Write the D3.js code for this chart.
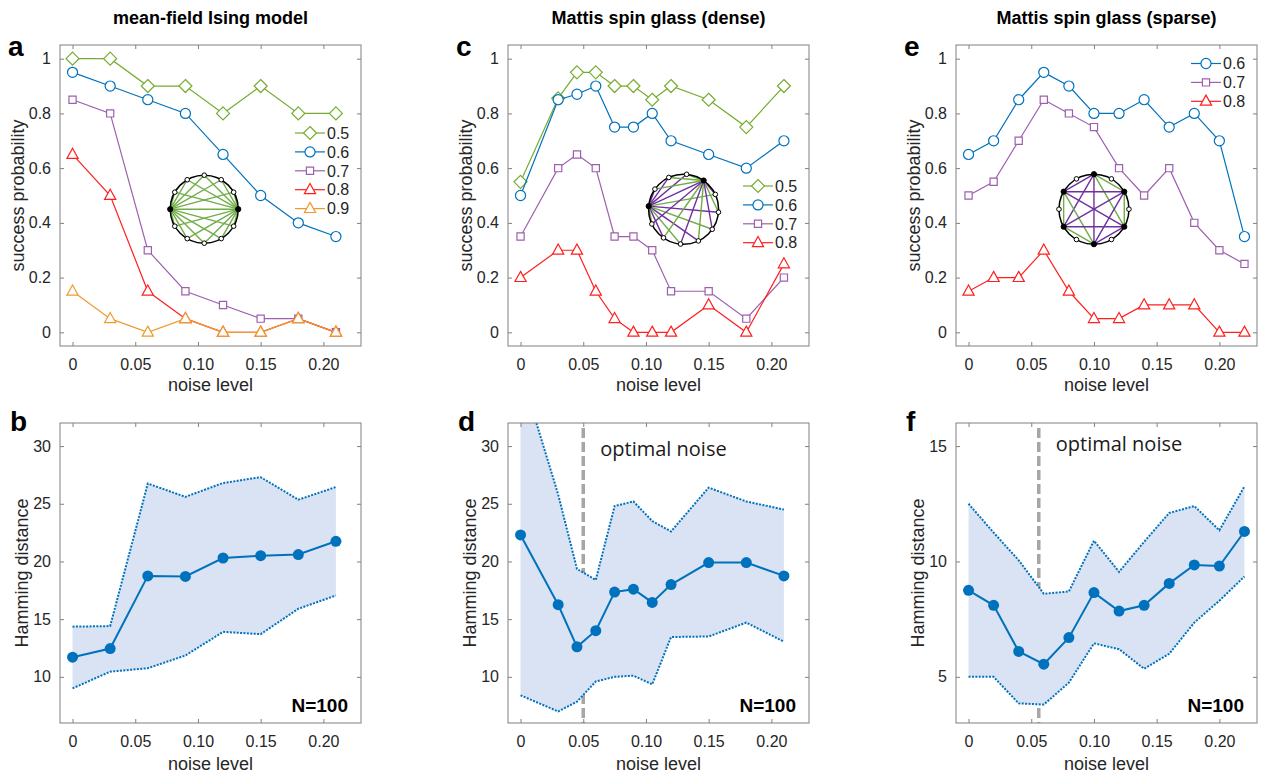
<!DOCTYPE html>
<html>
<meta charset="utf-8">
<title>success probability and Hamming distance vs noise level</title>
<style>
body { margin: 0; background: #fff; }
svg { font-family: Arial, "Liberation Sans", sans-serif; }
.tick text { fill: #262626; font-size: 16px; }
.tick line { stroke: #808080; }
.domain { display: none; }
.lab { fill: #262626; font-size: 18px; }
</style>
<svg width="1271" height="776"></svg>
<script src="https://d3js.org/d3.v7.min.js"></script>
<script>

// ---- data ----
var noiseTicks = [0, 0.05, 0.10, 0.15, 0.20];
var probTicks = [0, 0.2, 0.4, 0.6, 0.8, 1];

// a: mean-field Ising model
var noiseA = [0, 0.03, 0.06, 0.09, 0.12, 0.15, 0.18, 0.21];
var probA05 = [1, 1, 0.9, 0.9, 0.8, 0.9, 0.8, 0.8];
var probA06 = [0.95, 0.9, 0.85, 0.8, 0.65, 0.5, 0.4, 0.35];
var probA07 = [0.85, 0.8, 0.3, 0.15, 0.1, 0.05, 0.05, 0];
var probA08 = [0.65, 0.5, 0.15, 0.05, 0, 0, 0.05, 0];
var probA09 = [0.15, 0.05, 0, 0.05, 0, 0, 0.05, 0];

// c: Mattis spin glass (dense)
var noiseC = [0, 0.03, 0.045, 0.06, 0.075, 0.09, 0.105, 0.12, 0.15, 0.18, 0.21];
var probC05 = [0.55, 0.855, 0.95, 0.95, 0.9, 0.9, 0.85, 0.9, 0.85, 0.75, 0.9];
var probC06 = [0.5, 0.85, 0.87, 0.9, 0.75, 0.75, 0.8, 0.7, 0.65, 0.6, 0.7];
var probC07 = [0.35, 0.6, 0.65, 0.6, 0.35, 0.35, 0.3, 0.15, 0.15, 0.05, 0.2];
var probC08 = [0.2, 0.3, 0.3, 0.15, 0.05, 0, 0, 0, 0.1, 0, 0.25];

// e: Mattis spin glass (sparse)
var noiseE = [0, 0.02, 0.04, 0.06, 0.08, 0.10, 0.12, 0.14, 0.16, 0.18, 0.20, 0.22];
var probE06 = [0.65, 0.7, 0.85, 0.95, 0.9, 0.8, 0.8, 0.85, 0.75, 0.8, 0.7, 0.35];
var probE07 = [0.5, 0.55, 0.7, 0.85, 0.8, 0.75, 0.6, 0.5, 0.6, 0.4, 0.3, 0.25];
var probE08 = [0.15, 0.2, 0.2, 0.3, 0.15, 0.05, 0.05, 0.1, 0.1, 0.1, 0, 0];

// b, d, f: Hamming distance (mean, lower and upper band)
var hamB = [11.7, 12.45, 18.75, 18.7, 20.3, 20.5, 20.6, 21.75];
var hamBLo = [9.0, 10.45, 10.75, 11.85, 13.9, 13.7, 15.9, 17.05];
var hamBHi = [14.35, 14.4, 26.75, 25.6, 26.8, 27.3, 25.35, 26.45];

var hamD = [22.3, 16.25, 12.6, 14.0, 17.35, 17.6, 16.45, 18.0, 19.9, 19.9, 18.75];
var hamDLo = [8.4, 7.0, 7.85, 9.6, 10.0, 10.1, 9.35, 13.45, 13.5, 14.7, 13.05];
var hamDHi = [36.5, 25.8, 19.35, 18.4, 24.8, 25.2, 23.5, 22.6, 26.4, 25.2, 24.5];

var hamF = [8.75, 8.1, 6.1, 5.55, 6.7, 8.65, 7.85, 8.1, 9.05, 9.85, 9.8, 11.3];
var hamFLo = [5.0, 5.0, 3.85, 3.8, 4.75, 6.45, 6.2, 5.35, 6.0, 7.35, 8.3, 9.35];
var hamFHi = [12.5, 11.25, 10.05, 8.6, 8.7, 10.9, 9.55, 10.85, 12.1, 12.4, 11.35, 13.25];

var optimalD = 0.05, optimalF = 0.056;

// inset graphs: 12 nodes on a ring, filled ones are hubs
var ringA = d3.range(12).map(function(k) { return 30 * k; });
var hubsA = [0, 6];
var signsA = [1, 1, 1, 1, 1, 1, 1, 1, 1, 1, 1, 1];
var ringC = d3.range(12).map(function(k) { return 175 - 30 * k; });
var hubsC = [0, 4];
var signsC = [1, -1, -1, -1, -1, 1, -1, 1, -1, 1, -1, 1];
var ringE = d3.range(12).map(function(k) { return 90 + 30 * k; });
var hubsE = [0, 2, 4, 6, 8, 10];
var signsE = [1, 0, -1, 0, -1, 0, -1, 0, 1, 0, 1, 0];

// ---- styles ----
var cGreen = "#77ac30", cBlue = "#0072bd", cPurple = "#9e5fb0", cRed = "#ff1f1f", cOrange = "#ee9a2e";
var shapes = {
  diamond: "M0,-6.5L6.5,0L0,6.5L-6.5,0Z",
  circle: d3.symbol(d3.symbolCircle, 80)(),
  square: "M-3.6,-3.6H3.6V3.6H-3.6Z",
  triangle: "M0,-6.2L5.6,3.9L-5.6,3.9Z"
};

var svg = d3.select("svg");
var colLeft = [60, 508, 956];
var boxW = 301, topY = 45, topH = 301, botY = 423, botH = 300;

function fmtNoise(d) { return d === 0 ? "0" : d.toFixed(2); }
function fmtProb(d) { return (d === 0 || d === 1) ? String(d) : d.toFixed(1); }

function frame(g, x, y, w, h, yTicks, yFmt) {
  g.append("g").attr("transform", "translate(0," + h + ")")
    .call(d3.axisBottom(x).tickValues(noiseTicks).tickSizeInner(-4).tickSizeOuter(0).tickPadding(13).tickFormat(fmtNoise));
  g.append("g")
    .call(d3.axisTop(x).tickValues(noiseTicks).tickSizeInner(-4).tickSizeOuter(0).tickFormat(""));
  g.append("g")
    .call(d3.axisLeft(y).tickValues(yTicks).tickSizeInner(-4).tickSizeOuter(0).tickPadding(9).tickFormat(yFmt));
  g.append("g").attr("transform", "translate(" + w + ",0)")
    .call(d3.axisRight(y).tickValues(yTicks).tickSizeInner(-4).tickSizeOuter(0).tickFormat(""));
  g.append("rect").attr("width", w).attr("height", h)
    .attr("fill", "none").attr("stroke", "#808080").attr("stroke-width", 1);
}

function drawInset(g, cx, cy, r, angles, hubs, signs) {
  var ig = g.append("g").attr("transform", "translate(" + cx + "," + cy + ")");
  var pos = angles.map(function(a) {
    return [r * Math.cos(a * Math.PI / 180), -r * Math.sin(a * Math.PI / 180)];
  });
  var edges = [];
  if (hubs.length > 2) {
    // complete graph among hubs
    hubs.forEach(function(h, i) { hubs.slice(i + 1).forEach(function(k) { edges.push([h, k]); }); });
  } else {
    hubs.forEach(function(h, i) {
      pos.forEach(function(p, j) {
        if (j !== h && !(i > 0 && hubs.indexOf(j) > -1 && hubs.indexOf(j) < i)) edges.push([h, j]);
      });
    });
  }
  edges.forEach(function(e) {
    ig.append("line")
      .attr("x1", pos[e[0]][0]).attr("y1", pos[e[0]][1])
      .attr("x2", pos[e[1]][0]).attr("y2", pos[e[1]][1])
      .attr("stroke", signs[e[0]] * signs[e[1]] > 0 ? "#70ad47" : "#7030a0")
      .attr("stroke-width", 1.4);
  });
  ig.append("circle").attr("r", r).attr("fill", "none").attr("stroke", "#000").attr("stroke-width", 1.5);
  pos.forEach(function(p, j) {
    var hub = hubs.indexOf(j) > -1;
    ig.append("circle").attr("cx", p[0]).attr("cy", p[1]).attr("r", hub ? 2.6 : 2.3)
      .attr("fill", hub ? "#000" : "#fff").attr("stroke", "#000").attr("stroke-width", 1);
  });
}

function topPanel(col, letter, title, noise, series, legendTop, inset) {
  var g = svg.append("g").attr("transform", "translate(" + colLeft[col] + "," + topY + ")");
  var x = d3.scaleLinear().domain([-0.01, 0.23]).range([0, boxW]);
  var y = d3.scaleLinear().domain([-0.05, 1.05]).range([topH, 0]);
  frame(g, x, y, boxW, topH, probTicks, fmtProb);

  svg.append("text").attr("x", colLeft[col] + boxW / 2).attr("y", 24)
    .attr("text-anchor", "middle").attr("font-weight", "bold").attr("font-size", 18).text(title);
  svg.append("text").attr("x", colLeft[col] - 52).attr("y", topY + 11)
    .attr("font-weight", "bold").attr("font-size", 28).text(letter);
  g.append("text").attr("class", "lab").attr("text-anchor", "middle")
    .attr("transform", "translate(-36," + topH / 2 + ") rotate(-90)").text("success probability");
  g.append("text").attr("class", "lab").attr("text-anchor", "middle")
    .attr("x", boxW / 2).attr("y", topH + 45).text("noise level");

  drawInset(g, x(inset.x), y(inset.y), inset.r, inset.angles, inset.hubs, inset.signs);

  var line = d3.line().x(function(d, i) { return x(noise[i]); }).y(function(d) { return y(d); });
  series.forEach(function(s) {
    g.append("path").datum(s.values).attr("d", line)
      .attr("fill", "none").attr("stroke", s.color).attr("stroke-width", 1.2);
    g.selectAll(null).data(s.values).enter().append("path")
      .attr("transform", function(d, i) { return "translate(" + x(noise[i]) + "," + y(d) + ")"; })
      .attr("d", shapes[s.shape]).attr("fill", "#fff").attr("stroke", s.color).attr("stroke-width", 1.2);
  });

  // legend
  var lg = g.append("g").attr("transform", "translate(" + (boxW - 66) + "," + legendTop + ")");
  series.forEach(function(s, i) {
    var row = lg.append("g").attr("transform", "translate(0," + i * 18.9 + ")");
    row.append("line").attr("x1", 0).attr("x2", 30).attr("stroke", s.color).attr("stroke-width", 1.2);
    row.append("path").attr("transform", "translate(15,0)").attr("d", shapes[s.shape])
      .attr("fill", "#fff").attr("stroke", s.color).attr("stroke-width", 1.2);
    row.append("text").attr("x", 32).attr("dy", "0.36em").attr("font-size", 16).attr("fill", "#262626").text(s.name);
  });
}

function bottomPanel(col, letter, noise, mean, lo, hi, yDomain, yTicks, optimal) {
  var g = svg.append("g").attr("transform", "translate(" + colLeft[col] + "," + botY + ")");
  var x = d3.scaleLinear().domain([-0.01, 0.23]).range([0, boxW]);
  var y = d3.scaleLinear().domain(yDomain).range([botH, 0]);
  var clipId = "clip" + col;
  g.append("clipPath").attr("id", clipId).append("rect").attr("width", boxW).attr("height", botH);
  var pg = g.append("g").attr("clip-path", "url(#" + clipId + ")");

  if (optimal != null) {
    pg.append("line").attr("x1", x(optimal)).attr("x2", x(optimal))
      .attr("y1", 5).attr("y2", botH)
      .attr("stroke", "#a6a6a6").attr("stroke-width", 3.5).attr("stroke-dasharray", "10,4");
  }

  var area = d3.area().x(function(d, i) { return x(noise[i]); })
    .y0(function(d, i) { return y(lo[i]); }).y1(function(d, i) { return y(hi[i]); });
  pg.append("path").datum(mean).attr("d", area).attr("fill", "#dae3f3");

  var line = d3.line().x(function(d, i) { return x(noise[i]); }).y(function(d) { return y(d); });
  [lo, hi].forEach(function(b) {
    pg.append("path").datum(b).attr("d", line).attr("fill", "none")
      .attr("stroke", cBlue).attr("stroke-width", 2).attr("stroke-dasharray", "2,1.4");
  });
  pg.append("path").datum(mean).attr("d", line).attr("fill", "none")
    .attr("stroke", cBlue).attr("stroke-width", 2);
  pg.selectAll(null).data(mean).enter().append("circle")
    .attr("cx", function(d, i) { return x(noise[i]); }).attr("cy", function(d) { return y(d); })
    .attr("r", 5.5).attr("fill", cBlue);

  frame(g, x, y, boxW, botH, yTicks, function(d) { return String(d); });

  svg.append("text").attr("x", colLeft[col] - 50).attr("y", botY + 8)
    .attr("font-weight", "bold").attr("font-size", 28).text(letter);
  g.append("text").attr("class", "lab").attr("text-anchor", "middle")
    .attr("transform", "translate(-32," + botH / 2 + ") rotate(-90)").text("Hamming distance");
  g.append("text").attr("class", "lab").attr("text-anchor", "middle")
    .attr("x", boxW / 2).attr("y", botH + 47).text("noise level");
  g.append("text").attr("x", boxW - 13).attr("y", botH - 11).attr("text-anchor", "end")
    .attr("font-weight", "bold").attr("font-size", 19).attr("fill", "#000").text("N=100");
  if (optimal != null) {
    g.append("text").attr("x", x(optimal) + 17).attr("y", col === 1 ? 33 : 28)
      .attr("font-family", "'Open Sans', 'Noto Sans', sans-serif").attr("font-size", 20)
      .attr("fill", "#1a1a1a").text("optimal noise");
  }
}

topPanel(0, "a", "mean-field Ising model", noiseA, [
  {name: "0.5", values: probA05, color: cGreen, shape: "diamond"},
  {name: "0.6", values: probA06, color: cBlue, shape: "circle"},
  {name: "0.7", values: probA07, color: cPurple, shape: "square"},
  {name: "0.8", values: probA08, color: cRed, shape: "triangle"},
  {name: "0.9", values: probA09, color: cOrange, shape: "triangle"}
], 88, {x: 0.105, y: 0.45, r: 34, angles: ringA, hubs: hubsA, signs: signsA});

topPanel(1, "c", "Mattis spin glass (dense)", noiseC, [
  {name: "0.5", values: probC05, color: cGreen, shape: "diamond"},
  {name: "0.6", values: probC06, color: cBlue, shape: "circle"},
  {name: "0.7", values: probC07, color: cPurple, shape: "square"},
  {name: "0.8", values: probC08, color: cRed, shape: "triangle"}
], 141, {x: 0.13, y: 0.45, r: 35, angles: ringC, hubs: hubsC, signs: signsC});

topPanel(2, "e", "Mattis spin glass (sparse)", noiseE, [
  {name: "0.6", values: probE06, color: cBlue, shape: "circle"},
  {name: "0.7", values: probE07, color: cPurple, shape: "square"},
  {name: "0.8", values: probE08, color: cRed, shape: "triangle"}
], 18.5, {x: 0.1, y: 0.45, r: 35, angles: ringE, hubs: hubsE, signs: signsE});

bottomPanel(0, "b", noiseA, hamB, hamBLo, hamBHi, [6, 32], [10, 15, 20, 25, 30], null);
bottomPanel(1, "d", noiseC, hamD, hamDLo, hamDHi, [6, 32], [10, 15, 20, 25, 30], optimalD);
bottomPanel(2, "f", noiseE, hamF, hamFLo, hamFHi, [3, 16], [5, 10, 15], optimalF);

</script>
</html>
